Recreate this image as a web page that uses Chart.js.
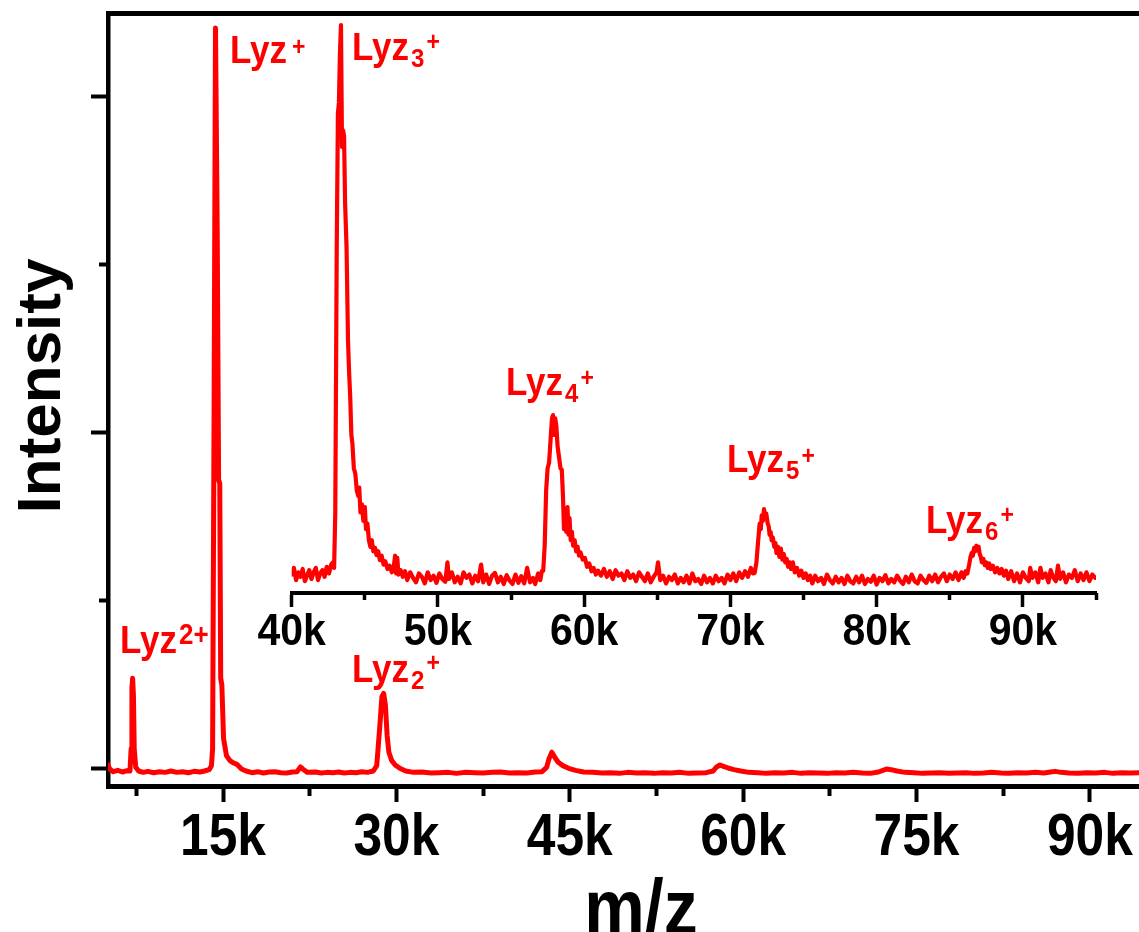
<!DOCTYPE html>
<html>
<head>
<meta charset="utf-8">
<script src="https://cdn.jsdelivr.net/npm/chart.js@4.4.1/dist/chart.umd.min.js"></script>
<style>
  html, body { margin: 0; padding: 0; background: #fff; }
  #wrap { position: relative; width: 1139px; height: 932px; overflow: hidden; }
  #wrap canvas { position: absolute; left: 0; top: 0; }
</style>
</head>
<body>
<div id="wrap">
  <canvas id="main" width="1139" height="932"></canvas>
  <canvas id="inset" width="1139" height="932"></canvas>
</div>
<script>
// ---- data (m/z in thousands, intensity in arbitrary units) ----

// full spectrum
const mainMz = [
  5.05, 5.2, 5.5, 5.9, 6.3, 6.7, 6.95, 7.05, 7.12, 7.18,
  7.25, 7.32, 7.45, 7.7, 8.1, 8.5, 9.0, 9.5, 10.0, 10.5,
  11.0, 11.5, 12.0, 12.5, 13.0, 13.4, 13.8, 14.0, 14.1, 14.22,
  14.35, 14.5, 14.62, 14.72, 14.8, 14.9, 15.05, 15.3, 15.6, 15.9,
  16.2, 16.6, 17.0, 17.5, 18.0, 18.5, 19.0, 19.5, 20.0, 20.5,
  21.0, 21.4, 21.7, 21.9, 22.3, 23.0, 23.5, 24.0, 24.5, 25.0,
  25.5, 26.0, 26.5, 27.0, 27.5, 28.0, 28.3, 28.55, 28.75, 28.9,
  29.05, 29.2, 29.35, 29.6, 29.9, 30.3, 30.8, 31.5, 32.2, 33.0,
  33.7, 34.5, 35.2, 36.0, 36.8, 37.5, 38.3, 39.0, 39.8, 40.5,
  41.3, 42.0, 42.6, 43.0, 43.2, 43.45, 43.7, 44.0, 44.4, 44.9,
  45.5, 46.2, 47.0, 47.8, 48.5, 49.3, 50.0, 50.8, 51.5, 52.3,
  53.0, 53.8, 54.5, 55.3, 56.0, 56.8, 57.4, 57.7, 58.0, 58.3,
  58.7, 59.2, 59.8, 60.5, 61.3, 62.0, 62.8, 63.5, 64.3, 65.0,
  65.8, 66.5, 67.3, 68.0, 68.8, 69.5, 70.3, 71.0, 71.7, 72.1,
  72.4, 72.8, 73.3, 74.0, 74.8, 75.5, 76.3, 77.0, 77.8, 78.5,
  79.3, 80.0, 80.8, 81.5, 82.3, 83.0, 83.8, 84.5, 85.3, 86.0,
  86.6, 87.0, 87.5, 88.2, 89.0, 89.8, 90.5, 91.3, 92.0, 92.8,
  93.5, 94.25
];
const mainInt = [
  0.012, 0.0, -0.008, -0.004, -0.009, -0.005, -0.006, 0.06, 0.24, 0.27,
  0.22, 0.06, 0.005, -0.006, -0.01, -0.007, -0.011, -0.008, -0.01, -0.006,
  -0.01, -0.008, -0.011, -0.007, -0.009, -0.006, -0.002, 0.01, 0.06, 1.0,
  2.205, 1.6, 0.86, 0.85, 0.27, 0.25, 0.09, 0.04, 0.025, 0.018,
  0.014, 0.0, -0.006, -0.011, -0.008, -0.012, -0.009, -0.008, -0.011, -0.012,
  -0.009, -0.008, 0.006, 0.0, -0.01, -0.009, -0.012, -0.01, -0.011, -0.009,
  -0.012, -0.01, -0.011, -0.008, -0.01, -0.006, 0.01, 0.12, 0.215, 0.225,
  0.19, 0.1, 0.05, 0.025, 0.012, 0.002, -0.006, -0.01, -0.009, -0.012,
  -0.011, -0.01, -0.013, -0.01, -0.011, -0.012, -0.01, -0.009, -0.012, -0.011,
  -0.012, -0.009, -0.008, 0.005, 0.03, 0.05, 0.035, 0.02, 0.01, 0.002,
  -0.004, -0.009, -0.01, -0.012, -0.011, -0.013, -0.01, -0.012, -0.011, -0.013,
  -0.011, -0.012, -0.01, -0.013, -0.012, -0.011, -0.006, 0.006, 0.012, 0.008,
  0.003, -0.002, -0.006, -0.01, -0.011, -0.013, -0.011, -0.012, -0.01, -0.013,
  -0.011, -0.012, -0.013, -0.011, -0.012, -0.01, -0.012, -0.013, -0.009, -0.004,
  0.0, -0.002, -0.006, -0.01, -0.011, -0.013, -0.012, -0.011, -0.013, -0.012,
  -0.011, -0.013, -0.012, -0.01, -0.012, -0.013, -0.011, -0.012, -0.01, -0.012,
  -0.009, -0.007, -0.01, -0.012, -0.013, -0.011, -0.012, -0.01, -0.013, -0.011,
  -0.012, -0.011
];

// zoomed spectrum 40k - 95k (inset)
const insetMz = [
  40.0, 40.15, 40.3, 40.45, 40.6, 40.75, 40.9, 41.05, 41.2, 41.35,
  41.5, 41.65, 41.8, 41.95, 42.1, 42.25, 42.4, 42.55, 42.7, 42.82,
  42.9, 42.98, 43.08, 43.16, 43.23, 43.3, 43.37, 43.44, 43.51, 43.58,
  43.65, 43.75, 43.85, 43.93, 44.0, 44.08, 44.15, 44.25, 44.35, 44.45,
  44.55, 44.62, 44.7, 44.8, 44.9, 45.0, 45.08, 45.18, 45.28, 45.38,
  45.48, 45.58, 45.7, 45.8, 45.92, 46.03, 46.15, 46.28, 46.4, 46.55,
  46.7, 46.85, 46.97, 47.07, 47.14, 47.22, 47.3, 47.45, 47.6, 47.75,
  47.9, 48.1, 48.3, 48.5, 48.7, 48.9, 49.1, 49.3, 49.5, 49.7,
  49.9, 50.1, 50.3, 50.5, 50.65, 50.75, 50.95, 51.15, 51.35, 51.55,
  51.75, 51.95, 52.15, 52.35, 52.55, 52.75, 52.95, 53.1, 53.3, 53.5,
  53.7, 53.9, 54.1, 54.3, 54.5, 54.7, 54.9, 55.1, 55.3, 55.5,
  55.7, 55.9, 56.1, 56.3, 56.5, 56.65, 56.85, 57.0, 57.1,
  57.2, 57.3, 57.4, 57.5, 57.6, 57.7, 57.8, 57.87, 57.94, 58.02,
  58.1, 58.18, 58.28, 58.38, 58.47, 58.55, 58.62, 58.7, 58.78, 58.86,
  58.93, 59.0, 59.08, 59.16, 59.25, 59.35, 59.45, 59.55, 59.65, 59.75,
  59.9, 60.05, 60.2, 60.35, 60.5, 60.65, 60.8, 60.95,
  61.15, 61.35, 61.55, 61.75, 61.95, 62.15, 62.35, 62.55, 62.75, 62.95,
  63.15, 63.35, 63.55, 63.75, 63.95, 64.15, 64.35, 64.55, 64.75, 64.95,
  65.05, 65.2, 65.4, 65.6, 65.8, 66.0, 66.2, 66.4, 66.6, 66.8,
  67.0, 67.2, 67.4, 67.6, 67.8, 68.0, 68.2, 68.4, 68.6, 68.8,
  69.0, 69.2, 69.4, 69.6, 69.8, 70.0, 70.2, 70.4, 70.6, 70.8,
  71.0, 71.2, 71.4, 71.55,
  71.66, 71.78, 71.9, 72.0, 72.08, 72.14, 72.22, 72.3, 72.37, 72.45,
  72.55, 72.62, 72.68, 72.75, 72.82, 72.9, 73.0, 73.08, 73.15, 73.25,
  73.35, 73.45, 73.55, 73.65, 73.75, 73.85, 73.95, 74.05, 74.15, 74.27,
  74.4, 74.55, 74.7, 74.85, 75.0, 75.15, 75.3, 75.45,
  75.6, 75.8, 76.0, 76.2, 76.4, 76.6, 76.8, 77.0, 77.2, 77.4,
  77.6, 77.8, 78.0, 78.2, 78.4, 78.6, 78.8, 79.0, 79.2, 79.4,
  79.6, 79.8, 80.0, 80.2, 80.4, 80.6, 80.8, 81.0, 81.2, 81.4,
  81.6, 81.8, 82.0, 82.2, 82.4, 82.6, 82.8, 83.0, 83.2, 83.4,
  83.6, 83.8, 84.0, 84.2, 84.4, 84.6, 84.8, 85.0, 85.2, 85.4,
  85.6, 85.8, 85.95, 86.08,
  86.2, 86.32, 86.42, 86.5, 86.58, 86.66, 86.74, 86.82, 86.9, 86.97,
  87.05, 87.12, 87.2, 87.3, 87.4, 87.5, 87.6, 87.7, 87.8, 87.95,
  88.1, 88.25, 88.4, 88.55, 88.7, 88.85,
  89.0, 89.2, 89.4, 89.6, 89.8, 90.0, 90.2, 90.4, 90.5, 90.65,
  90.85, 91.05, 91.2, 91.35, 91.55, 91.75, 91.9, 92.05, 92.25, 92.4,
  92.55, 92.75, 92.95, 93.15, 93.35, 93.55, 93.75, 93.95, 94.15, 94.35,
  94.55, 94.75, 94.95
];
const insetInt = [
  0.008, 0.02, -0.002, 0.012, 0.004, 0.018, -0.004, 0.006, 0.016, 0.0,
  0.012, 0.02, -0.002, 0.01, 0.016, 0.004, 0.022, 0.01, 0.026, 0.03,
  0.02, 0.12, 0.6, 0.84, 0.86, 0.95, 1.0, 0.78, 0.81, 0.8,
  0.68, 0.6, 0.43, 0.37, 0.33, 0.26, 0.245, 0.2, 0.19, 0.16,
  0.15, 0.165, 0.12, 0.135, 0.105, 0.13, 0.09, 0.1, 0.07, 0.058,
  0.07, 0.05, 0.056, 0.043, 0.05, 0.034, 0.042, 0.026, 0.032, 0.018,
  0.024, 0.012, 0.02, 0.042, 0.01, 0.038, 0.008, 0.016, 0.004, 0.014,
  -0.002, 0.012, 0.002, -0.006, 0.01, 0.004, -0.008, 0.012, -0.002, 0.006,
  -0.007, 0.01, 0.0, -0.005, 0.03, 0.0, 0.012, -0.006, 0.004, -0.008,
  0.012, 0.002, 0.008, -0.008, 0.006, -0.004, 0.026, -0.006, 0.008, -0.009,
  0.006, 0.011, -0.006, 0.004, -0.009, 0.007, -0.003, -0.009, 0.008, -0.007,
  0.005, -0.008, 0.02, -0.006, 0.002, -0.009, 0.01, -0.002, 0.014,
  0.015, 0.06, 0.16, 0.2, 0.21, 0.25, 0.29, 0.296, 0.26, 0.29,
  0.275, 0.24, 0.22, 0.2, 0.197, 0.15, 0.09, 0.1, 0.085, 0.13,
  0.08, 0.11, 0.07, 0.085, 0.06, 0.07, 0.05, 0.058, 0.042, 0.048,
  0.035, 0.038, 0.022, 0.028, 0.014, 0.02, 0.008, 0.015,
  0.006, 0.018, 0.004, 0.014, 0.0, 0.016, 0.006, 0.01, -0.002, 0.014,
  0.002, 0.008, -0.004, 0.012, 0.004, -0.004, 0.01, -0.006, 0.004, 0.012,
  0.03, -0.002, 0.006, -0.008, 0.004, -0.002, 0.008, -0.008, 0.002, -0.006,
  0.006, -0.008, 0.01, -0.004, 0.0, -0.009, 0.006, -0.006, 0.002, -0.008,
  0.006, -0.004, 0.002, -0.008, 0.008, -0.002, 0.01, -0.004, 0.012, 0.002,
  0.014, 0.004, 0.02, 0.01,
  0.011, 0.03, 0.07, 0.1, 0.09, 0.115, 0.105, 0.126, 0.11, 0.118,
  0.1, 0.095, 0.08, 0.085, 0.07, 0.075, 0.058, 0.065, 0.047, 0.058,
  0.04, 0.055, 0.035, 0.045, 0.03, 0.036, 0.022, 0.03, 0.018, 0.03,
  0.012, 0.02, 0.006, 0.015, 0.002, 0.01, -0.002, 0.006,
  -0.008, 0.006, -0.004, 0.002, -0.009, 0.008, -0.002, -0.008, 0.004, -0.006,
  0.002, -0.009, 0.006, -0.004, -0.008, 0.004, -0.006, 0.006, -0.009, 0.0,
  -0.005, 0.006, -0.01, 0.002, -0.004, 0.007, -0.008, 0.0, -0.006, 0.006,
  -0.003, -0.009, 0.004, -0.006, 0.008, -0.004, -0.008, 0.006, -0.002, -0.007,
  0.006, -0.004, 0.008, -0.006, 0.004, 0.01, -0.004, 0.008, 0.0, 0.012,
  -0.002, 0.012, 0.002, 0.014,
  0.01, 0.025, 0.04, 0.047, 0.042, 0.056, 0.05, 0.06, 0.052, 0.058,
  0.045, 0.04, 0.03, 0.036, 0.025, 0.03, 0.02, 0.028, 0.018, 0.024,
  0.012, 0.02, 0.01, 0.018, 0.006, 0.015,
  0.0, 0.014, -0.004, 0.01, -0.006, 0.012, 0.002, -0.004, 0.02, 0.002,
  0.012, -0.006, 0.02, 0.002, 0.01, -0.006, 0.016, 0.004, -0.004, 0.024,
  0.0, 0.012, -0.006, 0.008, 0.002, 0.016, -0.004, 0.01, -0.002, 0.012,
  -0.004, 0.008, 0.002
];

// ticks
const mainMajorX = [15, 30, 45, 60, 75, 90];
const mainMinorX = [7.5, 22.5, 37.5, 52.5, 67.5, 82.5];
const mainMajorY = [0, 1, 2];
const mainMinorY = [0.5, 1.5];
const insetMajorX = [40, 50, 60, 70, 80, 90];
const insetMinorX = [45, 55, 65, 75, 85, 95];

// peak labels (pixel anchors of the "Lyz" baseline)
const mainNotes = [
  { x: 120, y: 653, sub: '', sup: '2+', supDy: -9, supSize: 26, gap: 2 },
  { x: 230, y: 63, sub: '', sup: '+', supDy: -8, supSize: 23, gap: 5 },
  { x: 352, y: 682, sub: '2', sup: '+', supDy: -11, supSize: 23, gap: 2 }
];
const insetNotes = [
  { x: 352, y: 60, sub: '3', sup: '+', supDy: -10, supSize: 23, gap: 2 },
  { x: 506, y: 395, sub: '4', sup: '+', supDy: -9, supSize: 23, gap: 2 },
  { x: 727, y: 472, sub: '5', sup: '+', supDy: -8, supSize: 23, gap: 2 },
  { x: 926, y: 533, sub: '6', sup: '+', supDy: -10, supSize: 23, gap: 2 }
];

const RED = '#ff0000';
const FONT = '"Liberation Sans", Arial, Helvetica, sans-serif';

function toPoints(xs, ys) {
  const n = Math.min(xs.length, ys.length);
  if (xs.length !== ys.length) console.warn('length mismatch', xs.length, ys.length);
  const pts = [];
  for (let i = 0; i < n; i++) pts.push({ x: xs[i], y: ys[i] });
  return pts;
}

// text slightly taller than wide, like the original figure
function drawText(ctx, text, x, y, size, sy, color, align) {
  ctx.save();
  ctx.translate(x, y);
  ctx.scale(1, sy);
  ctx.font = 'bold ' + size + 'px ' + FONT;
  ctx.fillStyle = color;
  ctx.textAlign = align || 'left';
  ctx.textBaseline = 'alphabetic';
  ctx.fillText(text, 0, 0);
  ctx.restore();
}

function textWidth(ctx, text, size) {
  ctx.save();
  ctx.font = 'bold ' + size + 'px ' + FONT;
  const w = ctx.measureText(text).width;
  ctx.restore();
  return w;
}

function drawNote(ctx, n) {
  drawText(ctx, 'Lyz', n.x, n.y, 35, 1.12, RED);
  let cx = n.x + textWidth(ctx, 'Lyz', 35) + n.gap;
  if (n.sub) {
    drawText(ctx, n.sub, cx, n.y + 7, 24, 1.1, RED);
    cx += textWidth(ctx, n.sub, 24) + 2;
  }
  drawText(ctx, n.sup, cx, n.y + n.supDy, n.supSize, 1.1, RED);
}

function fixedTicks(values) {
  return function (scale) {
    scale.ticks = values.map(v => ({ value: v }));
  };
}

function fixSize(prop, size) {
  return function (scale) {
    scale[prop] = size;
    scale.paddingLeft = 0;
    scale.paddingRight = 0;
    scale.paddingTop = 0;
    scale.paddingBottom = 0;
  };
}

function tickAxis(opts) {
  return {
    type: 'linear',
    position: opts.position,
    weight: opts.weight,
    min: opts.min,
    max: opts.max,
    afterBuildTicks: fixedTicks(opts.ticks),
    afterFit: fixSize(opts.position === 'left' ? 'width' : 'height', opts.size),
    ticks: { display: false },
    grid: {
      display: opts.tickLength > 0,
      drawOnChartArea: false,
      drawTicks: true,
      tickLength: opts.tickLength,
      tickWidth: opts.tickWidth,
      tickColor: '#000'
    },
    border: { display: opts.border > 0, color: '#000', width: opts.border || 0 }
  };
}

// labels plugin: tick labels, axis titles, peak labels
function labelPlugin(cfg) {
  return {
    id: 'labels_' + cfg.name,
    afterDraw(chart) {
      const ctx = chart.ctx;
      const xs = chart.scales.x;
      xs.ticks.forEach(t => {
        drawText(ctx, t.value + 'k', xs.getPixelForValue(t.value), xs.top + cfg.tickDy,
          cfg.tickSize, cfg.tickSy, '#000', 'center');
      });
      if (cfg.titles) {
        drawText(ctx, 'm/z', 641, 934, 68, 1.15, '#000', 'center');
        ctx.save();
        ctx.translate(60, 386);
        ctx.rotate(-Math.PI / 2);
        ctx.font = 'bold 62px ' + FONT;
        ctx.fillStyle = '#000';
        ctx.textAlign = 'center';
        ctx.fillText('Intensity', 0, 0);
        ctx.restore();
      }
      cfg.notes.forEach(n => drawNote(ctx, n));
    }
  };
}

// main spectrum
const MAIN_X = [5.05, 94.25];
const MAIN_Y = [-0.0506, 2.25];

new Chart(document.getElementById('main'), {
  type: 'line',
  data: {
    datasets: [{
      data: toPoints(mainMz, mainInt),
      borderColor: RED,
      borderWidth: 5,
      borderJoinStyle: 'round',
      borderCapStyle: 'round',
      pointRadius: 0,
      tension: 0,
      fill: false,
      xAxisID: 'x',
      yAxisID: 'y'
    }]
  },
  options: {
    responsive: false,
    animation: false,
    events: [],
    layout: { padding: { top: 13, left: 0, right: 0, bottom: 0 } },
    plugins: { legend: { display: false }, tooltip: { enabled: false } },
    scales: {
      x: tickAxis({ position: 'bottom', weight: 1, min: MAIN_X[0], max: MAIN_X[1], ticks: mainMajorX, size: 146, tickLength: 16, tickWidth: 4, border: 5 }),
      xMinor: tickAxis({ position: 'bottom', weight: 0, min: MAIN_X[0], max: MAIN_X[1], ticks: mainMinorX, size: 0, tickLength: 10, tickWidth: 4, border: 0 }),
      xTop: tickAxis({ position: 'top', weight: 0, min: MAIN_X[0], max: MAIN_X[1], ticks: [], size: 0, tickLength: 0, tickWidth: 0, border: 5 }),
      y: tickAxis({ position: 'left', weight: 1, min: MAIN_Y[0], max: MAIN_Y[1], ticks: mainMajorY, size: 108, tickLength: 17, tickWidth: 4, border: 4.5 }),
      yMinor: tickAxis({ position: 'left', weight: 0, min: MAIN_Y[0], max: MAIN_Y[1], ticks: mainMinorY, size: 0, tickLength: 9, tickWidth: 4, border: 0 })
    }
  },
  plugins: [labelPlugin({ name: 'main', tickDy: 69, tickSize: 51.5, tickSy: 1.16, titles: true, notes: mainNotes })]
});

// inset spectrum
const INSET_X = [40, 95];
const INSET_Y = [-0.0253, 1.02];

new Chart(document.getElementById('inset'), {
  type: 'line',
  data: {
    datasets: [{
      data: toPoints(insetMz, insetInt),
      borderColor: RED,
      borderWidth: 4.2,
      borderJoinStyle: 'round',
      borderCapStyle: 'round',
      pointRadius: 0,
      tension: 0,
      fill: false,
      xAxisID: 'x',
      yAxisID: 'y'
    }]
  },
  options: {
    responsive: false,
    animation: false,
    events: [],
    layout: { padding: { top: 14, left: 291.7, right: 43, bottom: 0 } },
    plugins: { legend: { display: false }, tooltip: { enabled: false } },
    scales: {
      x: tickAxis({ position: 'bottom', weight: 1, min: INSET_X[0], max: INSET_X[1], ticks: insetMajorX, size: 339, tickLength: 14, tickWidth: 3.5, border: 4 }),
      xMinor: tickAxis({ position: 'bottom', weight: 0, min: INSET_X[0], max: INSET_X[1], ticks: insetMinorX, size: 0, tickLength: 7, tickWidth: 3.5, border: 0 }),
      y: { type: 'linear', display: false, min: INSET_Y[0], max: INSET_Y[1] }
    }
  },
  plugins: [labelPlugin({ name: 'inset', tickDy: 52, tickSize: 41, tickSy: 1.1, titles: false, notes: insetNotes })]
});
</script>
</body>
</html>
